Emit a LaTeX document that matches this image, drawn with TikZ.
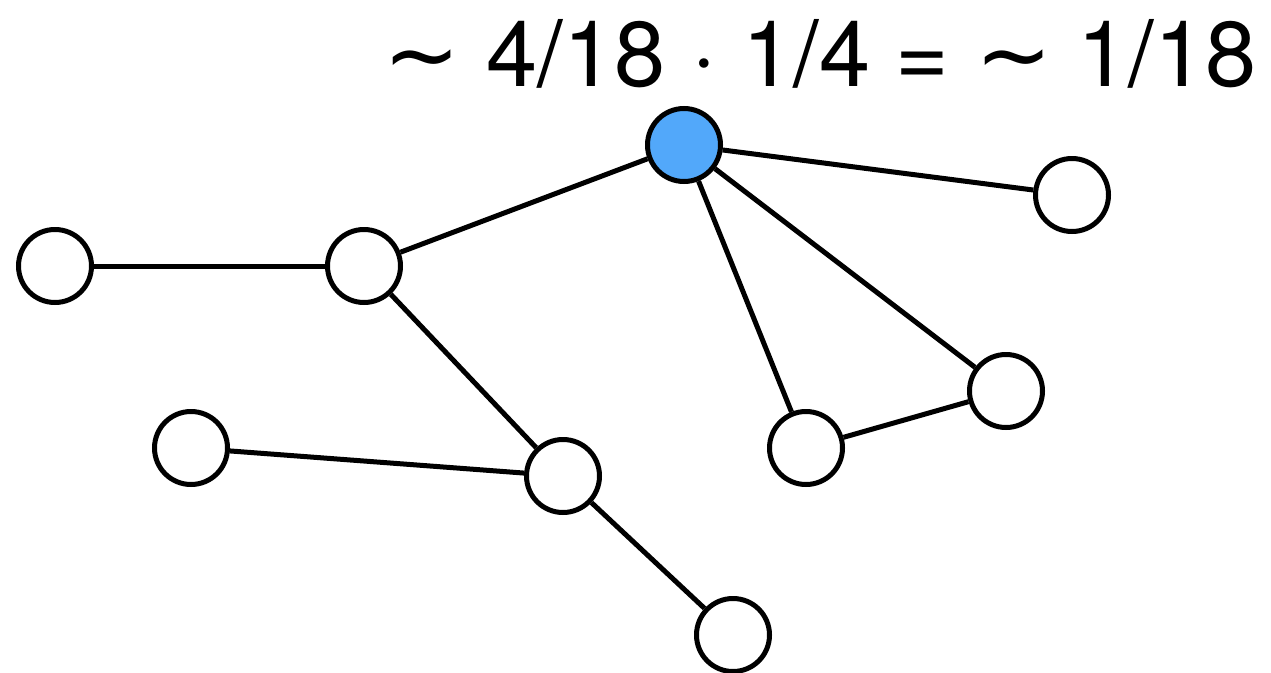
\documentclass[tikz,border=0pt]{standalone}
\usepackage{fontspec}
\setmainfont{TeX Gyre Heros}
\newfontfamily\symfont{DejaVu Sans}
\definecolor{nodeblue}{RGB}{82,168,250}
\begin{document}
\begin{tikzpicture}[x=1pt,y=-1pt,
  vertex/.style={circle,draw=black,line width=5pt,fill=white,minimum size=73pt,inner sep=0pt},
  edge/.style={line width=5pt}]
\useasboundingbox (0,0) rectangle (1271,672);
\node[vertex] (A) at (55,266) {};
\node[vertex] (B) at (364,266) {};
\node[vertex,fill=nodeblue] (C) at (684,145) {};
\node[vertex] (D) at (1072,195) {};
\node[vertex] (E) at (1006,391) {};
\node[vertex] (F) at (806,448) {};
\node[vertex] (G) at (563,476) {};
\node[vertex] (H) at (191,448) {};
\node[vertex] (I) at (733,635) {};
\draw[edge] (A) -- (B);
\draw[edge] (B) -- (C);
\draw[edge] (B) -- (G);
\draw[edge] (C) -- (D);
\draw[edge] (C) -- (F);
\draw[edge] (C) -- (E);
\draw[edge] (E) -- (F);
\draw[edge] (H) -- (G);
\draw[edge] (G) -- (I);
\node[anchor=base east,inner sep=0pt,font=\fontsize{92}{100}\selectfont] (T) at (1257,86) {{\symfont ∼} 4/18 · 1/4 = {\symfont ∼} 1/18};
\end{tikzpicture}
\end{document}
